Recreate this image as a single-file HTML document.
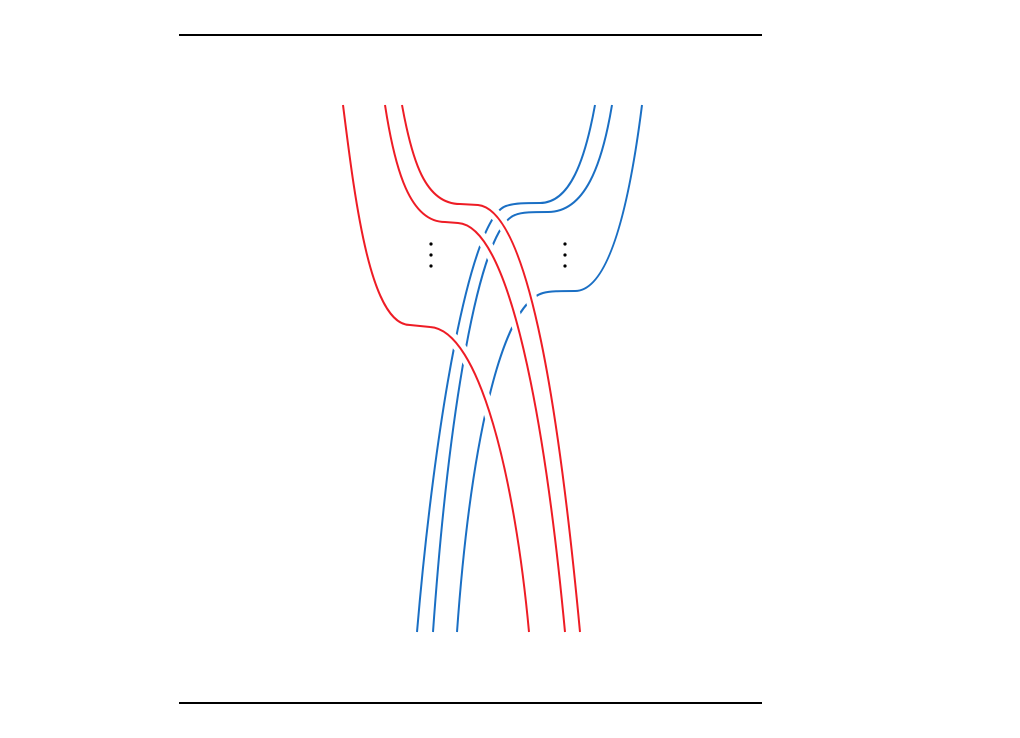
<!DOCTYPE html>
<html><head><meta charset="utf-8"><style>
html,body{margin:0;padding:0;background:#fff;}
svg{display:block;}
</style></head><body>
<svg width="1020" height="738" viewBox="0 0 1020 738">
<line x1="179" y1="35" x2="762" y2="35" stroke="#000" stroke-width="2"/>
<line x1="179" y1="703" x2="762" y2="703" stroke="#000" stroke-width="2"/>
<g fill="none" stroke="#1a6fc4" stroke-width="2">
<path d="M595,105 C585,160 570,203 540,203 C525,203 515,203 506,206 C470,218 435,420 417,632"/>
<path d="M612,105 C602,165 585,212 548,212 C533,212 522,212 515,215 C478,228 448,420 433,632"/>
<path d="M642,105 C630,200 610,291 575,291 C560,291 550,291 543,293 C500,305 470,450 457,632"/>
</g>
<g fill="none" stroke="#fff" stroke-width="12">
<path d="M343,105 C355,200 370,325 410,325 L430,327 C480,330 515,480 529,632"/>
<path d="M385,105 C395,170 410,222 445,222 L458,223 C510,226 545,420 565,632"/>
<path d="M402,105 C412,160 425,204 460,204 L478,205 C530,210 560,420 580,632"/>
</g>
<g fill="none" stroke="#ee1c25" stroke-width="2">
<path d="M343,105 C355,200 370,325 410,325 L430,327 C480,330 515,480 529,632"/>
<path d="M385,105 C395,170 410,222 445,222 L458,223 C510,226 545,420 565,632"/>
<path d="M402,105 C412,160 425,204 460,204 L478,205 C530,210 560,420 580,632"/>
</g>
<g fill="#000">
<circle cx="431" cy="244" r="1.6"/><circle cx="431" cy="255" r="1.6"/><circle cx="431" cy="266" r="1.6"/>
</g>
<g fill="#000">
<circle cx="565" cy="244" r="1.6"/><circle cx="565" cy="255" r="1.6"/><circle cx="565" cy="266" r="1.6"/>
</g>
</svg>
</body></html>
